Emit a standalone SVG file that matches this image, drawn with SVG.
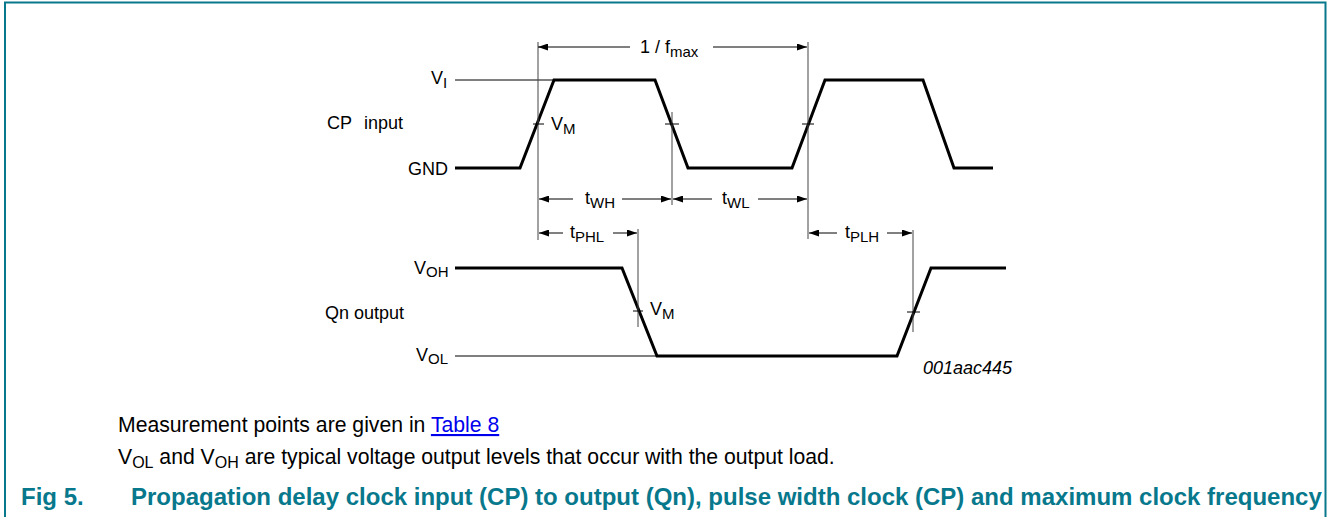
<svg xmlns="http://www.w3.org/2000/svg" width="1328" height="517" viewBox="0 0 1328 517">
<defs>
<marker id="ah" markerWidth="10" markerHeight="7" refX="10" refY="3.5" orient="auto" markerUnits="userSpaceOnUse">
<path d="M0,0 L10,3.5 L0,7 z" fill="#000"/>
</marker>
</defs>
<style>
text{font-family:"Liberation Sans",Arial,Helvetica,sans-serif;fill:#000}
.lbl{font-size:18px}
.sub{font-size:15px}
.sig{fill:none;stroke:#000;stroke-width:3;stroke-linejoin:miter}
.thin{fill:none;stroke:#000;stroke-width:1}
.ref{fill:none;stroke:#444;stroke-width:1}
.dim{fill:none;stroke:#000;stroke-width:1;marker-end:url(#ah)}
.note{font-size:21.2px}
.nsub{font-size:16px}
.cap{font-size:24px;font-weight:bold;fill:#08788c}
.link{fill:#0000ee;text-decoration:underline}
</style>
<rect width="1328" height="517" fill="#fff"/>
<path id="frame" d="M5,517 V2.5 H1325.5 V517" fill="none" stroke="#08788c" stroke-width="2"/>

<g id="cp-input">
<polyline class="sig" points="455,168 520,168 554,80 655,80 688,168 792,168 825,80 923,80 954,168 993,168"/>
<line class="thin" x1="455" y1="80" x2="553" y2="80"/>
<text class="lbl" x="431" y="84">V<tspan class="sub" dy="4">I</tspan></text>
<text class="lbl" x="327" y="129">CP</text>
<text class="lbl" x="364" y="129">input</text>
<text class="lbl" x="408" y="175">GND</text>
<text class="lbl" x="551" y="130">V<tspan class="sub" dy="4">M</tspan></text>
</g>

<g id="qn-output">
<polyline class="sig" points="455,268 622,268 657,356 897,356 931,268 1006,268"/>
<line class="thin" x1="455" y1="356" x2="656" y2="356"/>
<text class="lbl" x="414" y="274">V<tspan class="sub" dy="3">OH</tspan></text>
<text class="lbl" x="325" y="319">Qn output</text>
<text class="lbl" x="416" y="361">V<tspan class="sub" dy="3">OL</tspan></text>
<text class="lbl" x="650" y="315">V<tspan class="sub" dy="4">M</tspan></text>
<text class="lbl" x="923" y="374" font-style="italic" font-size="14.5">001aac445</text>
</g>

<g id="connectors">
<line class="ref" x1="538" y1="42" x2="538" y2="240"/>
<line class="ref" x1="808" y1="42" x2="808" y2="239"/>
<line class="ref" x1="672" y1="112" x2="672" y2="205"/>
<line class="ref" x1="638" y1="229" x2="638" y2="327"/>
<line class="ref" x1="913" y1="230" x2="913" y2="332"/>
<line class="thin" x1="533" y1="124" x2="544" y2="124"/>
<line class="thin" x1="665" y1="124" x2="679" y2="124"/>
<line class="thin" x1="802" y1="124" x2="814" y2="124"/>
<line class="thin" x1="633" y1="311" x2="643" y2="311"/>
<line class="thin" x1="907" y1="312" x2="920" y2="312"/>

<line class="dim" x1="630" y1="47" x2="538" y2="47"/>
<line class="dim" x1="713" y1="47" x2="807" y2="47"/>
<text class="lbl" x="640" y="53">1 / f<tspan class="sub" dy="4">max</tspan></text>

<line class="dim" x1="573" y1="199" x2="539" y2="199"/>
<line class="dim" x1="622" y1="199" x2="671" y2="199"/>
<text class="lbl" x="585" y="204">t<tspan class="sub" dy="4">WH</tspan></text>

<line class="dim" x1="712" y1="199" x2="673" y2="199"/>
<line class="dim" x1="758" y1="199" x2="807" y2="199"/>
<text class="lbl" x="722" y="204">t<tspan class="sub" dy="4">WL</tspan></text>

<line class="dim" x1="563" y1="233" x2="539" y2="233"/>
<line class="dim" x1="613" y1="233" x2="637" y2="233"/>
<text class="lbl" x="570" y="238">t<tspan class="sub" dy="4">PHL</tspan></text>

<line class="dim" x1="837" y1="233" x2="809" y2="233"/>
<line class="dim" x1="887" y1="233" x2="912" y2="233"/>
<text class="lbl" x="845" y="238">t<tspan class="sub" dy="4">PLH</tspan></text>
</g>

<g id="notes">
<text class="note" x="118" y="432">Measurement points are given in <tspan class="link">Table 8</tspan></text>
<text class="note" x="118" y="464">V<tspan class="nsub" dy="4">OL</tspan><tspan dy="-4"> and V</tspan><tspan class="nsub" dy="4">OH</tspan><tspan dy="-4"> are typical voltage output levels that occur with the output load.</tspan></text>
<text class="cap" x="21" y="505">Fig 5.</text>
<text class="cap" x="131" y="505">Propagation delay clock input (CP) to output (Qn), pulse width clock (CP) and maximum clock frequency</text>
</g>
</svg>
